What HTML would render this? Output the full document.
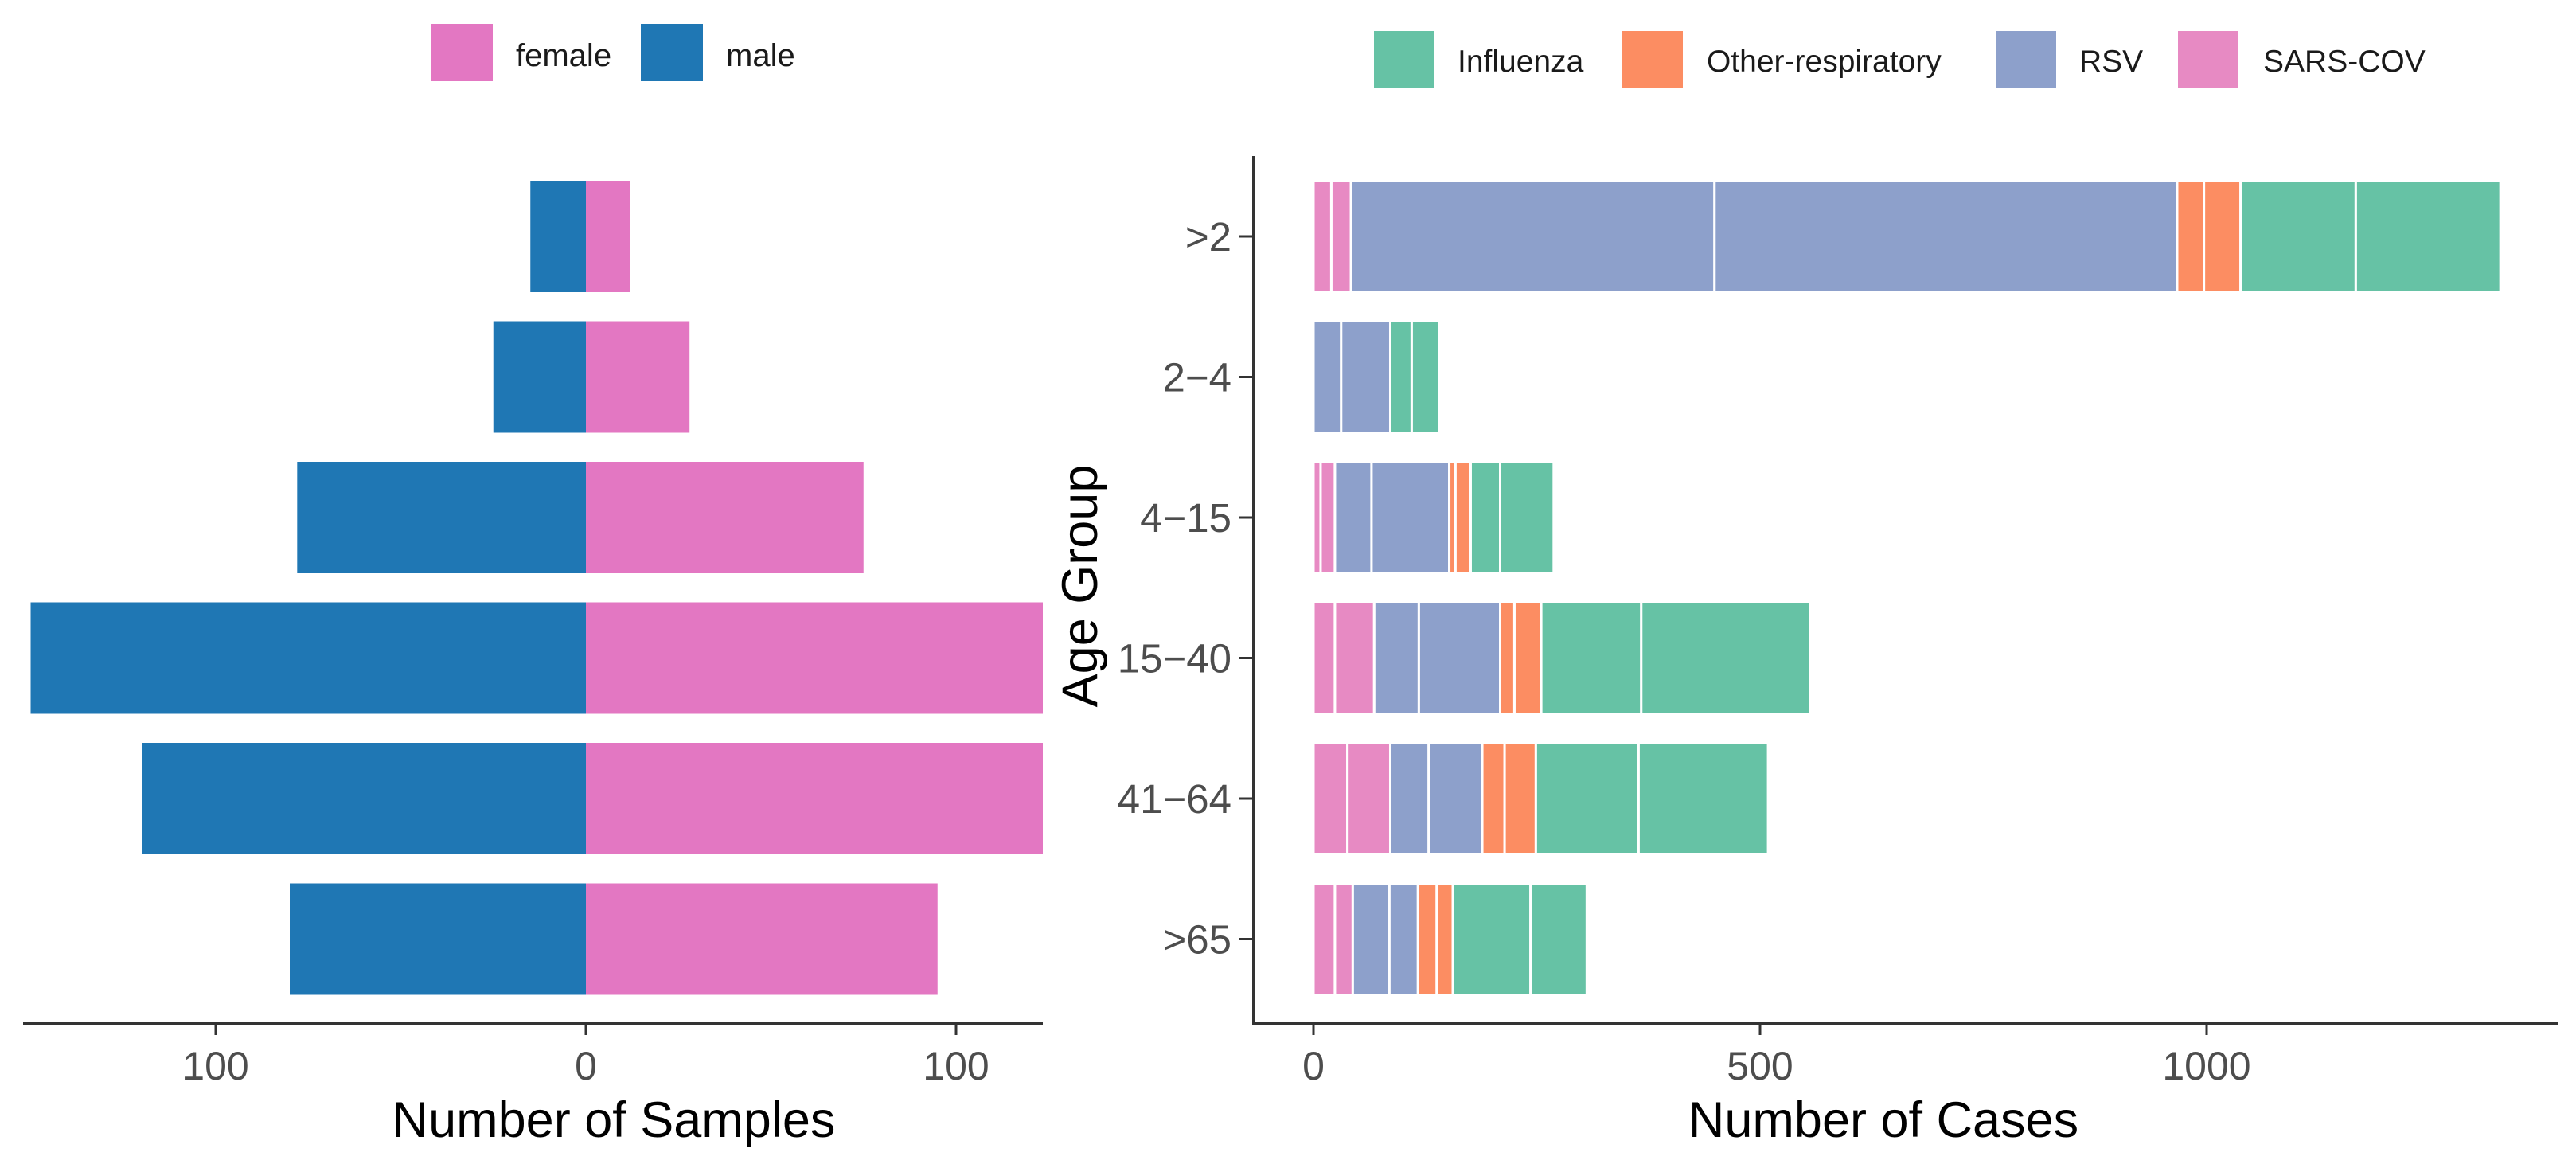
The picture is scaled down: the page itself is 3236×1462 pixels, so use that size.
<!DOCTYPE html>
<html><head><meta charset="utf-8"><style>
html,body{margin:0;padding:0;background:#fff;}
svg{display:block;font-family:"Liberation Sans",Arial,sans-serif;}
</style></head><body>
<svg id="chart" width="3236" height="1462" viewBox="0 0 3236 1462" xmlns="http://www.w3.org/2000/svg">
<defs><clipPath id="clipL"><rect x="29" y="150" width="1281" height="1130"/></clipPath></defs>
<g id="left"></g>
<g id="right"></g>
</svg>
<script>
// ---- data ----
const ageGroups = [">2","2-4","4-15","15-40","41-64",">65"];
const maleSamples = [15,25,78,150,120,80];
const femaleSamples = [12,28,75,135,135,95];
const leftTicks = [-100,0,100];
const leftTickLabels = ["100","0","100"];

const diseases = ["SARS-COV","RSV","Other-respiratory","Influenza"];
const sarsParts = [[20,22],[0,0],[8,16],[24,44],[38,48],[24,20]];
const rsvParts = [[407,518],[31,55],[41,87],[50,91],[43,60],[41,32]];
const otherParts = [[30,41],[0,0],[7,17],[16,30],[25,35],[21,18]];
const fluParts = [[129,162],[24,31],[33,60],[112,189],[115,145],[87,63]];
const rightTicks = [0,500,1000];
const rightTickLabels = ["0","500","1000"];

const NS="http://www.w3.org/2000/svg";
function mk(tag,attrs,parent,text){const e=document.createElementNS(NS,tag);for(const k in attrs)e.setAttribute(k,attrs[k]);if(text!==undefined)e.textContent=text;parent.appendChild(e);return e;}
const rowY = i => 297 + 176.5*i;
const barH = 140;

// ---- left panel ----
const L=document.getElementById('left');
const xL = v => 736 + v*4.65;
const clipG = mk('g',{'clip-path':'url(#clipL)'},L);
ageGroups.forEach((g,i)=>{
  let r=mk('rect',{x:xL(-maleSamples[i]),y:rowY(i)-barH/2,width:xL(0)-xL(-maleSamples[i]),height:barH,fill:'#1F77B4'},clipG);
  
  
  let f=mk('rect',{x:xL(0),y:rowY(i)-barH/2,width:xL(femaleSamples[i])-xL(0),height:barH,fill:'#E377C2'},clipG);
  
  
});
let la=mk('line',{x1:29,x2:1310,y1:1286,y2:1286,stroke:'#333',"stroke-width":4},L);


leftTicks.forEach((t,i)=>{
  let tk=mk('line',{x1:xL(t),x2:xL(t),y1:1286,y2:1300,stroke:'#333',"stroke-width":3},L);
  
  
  let tl=mk('text',{x:xL(t),y:1356,"text-anchor":'middle',"font-size":50,fill:'#4d4d4d'},L,leftTickLabels[i]);
  
  
});
let lt=mk('text',{x:771,y:1428,"text-anchor":'middle',"font-size":63,fill:'#000'},L,'Number of Samples');


// legend left
[['female','#E377C2',541,648],['male','#1F77B4',805,912]].forEach(d=>{
  let b=mk('rect',{x:d[2],y:30,width:78,height:72,fill:d[1]},L);
  
  
  let t=mk('text',{x:d[3],y:83,"font-size":40,fill:'#1a1a1a'},L,d[0]);
  
  
});

// ---- right panel ----
const R=document.getElementById('right');
const xR = v => 1650 + v*1.122;
const colors = {"SARS-COV":'#E78AC3',"RSV":'#8DA0CB',"Other-respiratory":'#FC8D62',"Influenza":'#66C2A5'};
const partsByDisease = [sarsParts,rsvParts,otherParts,fluParts];
ageGroups.forEach((g,i)=>{
  let acc=0;
  diseases.forEach((d,k)=>{
    partsByDisease[k][i].forEach(v=>{
      if(v<=0) return;
      let r=mk('rect',{x:xR(acc),y:rowY(i)-barH/2,width:xR(acc+v)-xR(acc),height:barH,fill:colors[d],stroke:'#fff',"stroke-width":3},R);
      
      
      acc+=v;
    });
  });
  let tk=mk('line',{x1:1557,x2:1575,y1:rowY(i),y2:rowY(i),stroke:'#333',"stroke-width":3},R);
  
  
  let tl=mk('text',{x:1547,y:rowY(i)+18,"text-anchor":'end',"font-size":51,fill:'#4d4d4d'},R,g.replace('-','\u2212'));
  
  
});
let ya=mk('line',{x1:1575,x2:1575,y1:196,y2:1288,stroke:'#333',"stroke-width":4},R);


let xa=mk('line',{x1:1573,x2:3214,y1:1286,y2:1286,stroke:'#333',"stroke-width":4},R);


rightTicks.forEach((t,i)=>{
  let tk=mk('line',{x1:xR(t),x2:xR(t),y1:1286,y2:1300,stroke:'#333',"stroke-width":3},R);
  
  
  let tl=mk('text',{x:xR(t),y:1356,"text-anchor":'middle',"font-size":50,fill:'#4d4d4d'},R,rightTickLabels[i]);
  
  
});
let rt=mk('text',{x:2366,y:1428,"text-anchor":'middle',"font-size":63,fill:'#000'},R,'Number of Cases');


let yt=mk('text',{x:0,y:0,"text-anchor":'middle',"font-size":63,fill:'#000',transform:'translate(1378,736) rotate(-90)'},R,'Age Group');


[['Influenza',1726,1831],['Other-respiratory',2038,2144],['RSV',2507,2612],['SARS-COV',2736,2843]].forEach(d=>{
  let b=mk('rect',{x:d[1],y:39,width:76,height:71,fill:colors[d[0]]},R);
  
  
  let t=mk('text',{x:d[2],y:90,"font-size":39,fill:'#1a1a1a'},R,d[0]);
  
  
});
</script>
</body></html>
